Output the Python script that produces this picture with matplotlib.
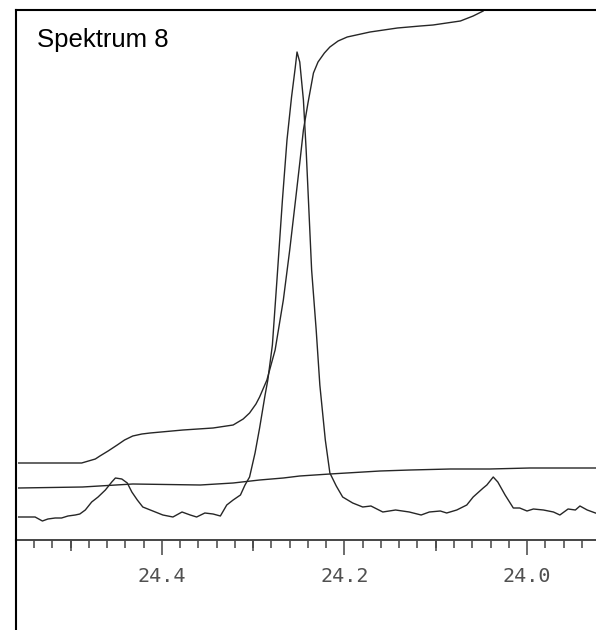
import matplotlib
matplotlib.use("Agg")
import matplotlib.pyplot as plt
from matplotlib.lines import Line2D
from matplotlib.ticker import MultipleLocator, FixedLocator, NullFormatter

# ---- data (chemical shift in ppm, relative intensity) ----
spec_ppm = [24.557, 24.539, 24.531, 24.525, 24.517, 24.510, 24.503, 24.495, 24.490, 24.484,
            24.477, 24.470, 24.462, 24.455, 24.451, 24.444, 24.438, 24.433, 24.427, 24.421,
            24.410, 24.399, 24.388, 24.378, 24.369, 24.362, 24.353, 24.344, 24.336, 24.329,
            24.322, 24.314, 24.309, 24.304, 24.298, 24.293, 24.287, 24.284, 24.279, 24.274,
            24.268, 24.263, 24.258, 24.254, 24.252, 24.249, 24.245, 24.242, 24.239, 24.236,
            24.231, 24.227, 24.221, 24.216, 24.209, 24.202, 24.191, 24.180, 24.171, 24.158,
            24.144, 24.129, 24.116, 24.107, 24.095, 24.088, 24.077, 24.066, 24.059, 24.048,
            24.044, 24.037, 24.032, 24.024, 24.015, 24.008, 24.000, 23.993, 23.982, 23.971,
            23.964, 23.955, 23.947, 23.942, 23.934, 23.925]
spec_int = [21, 21, 17, 19, 20, 20, 22, 23, 24, 28,
            36, 41, 48, 56, 60, 59, 55, 46, 38, 31,
            27, 23, 21, 26, 23, 21, 25, 24, 22, 33,
            38, 43, 53, 61, 85, 110, 143, 158, 193, 258,
            338, 398, 441, 470, 486, 476, 438, 388, 328, 268,
            208, 153, 98, 65, 52, 41, 35, 31, 32, 26,
            28, 26, 23, 26, 27, 25, 28, 33, 41, 50,
            53, 61, 56, 43, 30, 30, 27, 29, 28, 26,
            23, 29, 28, 32, 28, 25]

integ_ppm = [24.557, 24.488, 24.473, 24.468, 24.459, 24.449, 24.441, 24.432, 24.422, 24.413,
             24.377, 24.344, 24.322, 24.311, 24.304, 24.297, 24.293, 24.285, 24.276, 24.267,
             24.260, 24.253, 24.249, 24.245, 24.240, 24.234, 24.229, 24.222, 24.216, 24.207,
             24.197, 24.172, 24.142, 24.117, 24.103, 24.073, 24.059, 24.048, 24.033]
integ_int = [75, 75, 79, 82, 87, 93, 98, 102, 104, 105,
             108, 110, 113, 119, 125, 134, 141, 158, 188, 238,
             288, 343, 375, 408, 435, 465, 476, 485, 491, 497,
             501, 506, 510, 512, 513, 517, 522, 527, 545]

base_ppm = [24.557, 24.487, 24.432, 24.358, 24.322, 24.293, 24.267, 24.249, 24.216, 24.161,
            24.128, 24.084, 24.041, 23.997, 23.924]
base_int = [50, 51, 54, 53, 55, 58, 60, 62, 64, 67, 68, 69, 69, 70, 70]

major_ticks = [24.4, 24.2, 24.0]
major_labels = ["24.4", "24.2", "24.0"]
medium_ticks = [24.5, 24.3, 24.1]
title_text = "Spektrum 8"

# ---- figure ----
W, H = 596, 630
fig = plt.figure(figsize=(W / 100, H / 100), dpi=100)
left_px, top_px, axis_px = 16.3, 10.0, 539.5
ax = fig.add_axes([left_px / W, (H - axis_px) / H, (W - left_px) / W, (axis_px - top_px) / H])

line_kw = dict(color="#262626", lw=1.0, solid_joinstyle="round")
ax.plot(spec_ppm, spec_int, **line_kw)
ax.plot(integ_ppm, integ_int, **line_kw)
ax.plot(base_ppm, base_int, **line_kw)

ax.set_xlim(24.5596, 23.9244)
ax.set_ylim(-1.5, 528)

ax.spines["right"].set_visible(False)
ax.spines["left"].set_color("black")
ax.spines["left"].set_linewidth(1.5)
ax.spines["top"].set_color("black")
ax.spines["top"].set_linewidth(1.5)
ax.spines["bottom"].set_color("#454545")
ax.spines["bottom"].set_linewidth(1.4)

ax.yaxis.set_visible(False)
ax.xaxis.set_major_locator(FixedLocator(major_ticks))
ax.set_xticklabels(major_labels, family="DejaVu Sans Mono", fontsize=14.5, color="#505050")
ax.xaxis.set_minor_locator(MultipleLocator(0.02))
ax.xaxis.set_minor_formatter(NullFormatter())
ax.tick_params(axis="x", which="major", direction="out", length=10.5, width=1.1,
               color="#454545", pad=9)
ax.tick_params(axis="x", which="minor", direction="out", length=5.5, width=1.1,
               color="#454545")

sec = ax.secondary_xaxis("bottom")
sec.set_xticks(medium_ticks)
sec.set_xticklabels([""] * len(medium_ticks))
sec.tick_params(axis="x", which="major", direction="out", length=8, width=1.1, color="#454545")
sec.xaxis.set_minor_locator(FixedLocator([]))
for s in sec.spines.values():
    s.set_visible(False)

# left frame line continues below the axis
fig.add_artist(Line2D([left_px / W, left_px / W], [0, (H - axis_px) / H],
                      transform=fig.transFigure, color="black", lw=1.5))

fig.text(37 / W, 1 - 47 / H, title_text, family="Liberation Sans", fontsize=18.5,
         color="black", ha="left", va="baseline")

fig.savefig("out.png", dpi=100)
